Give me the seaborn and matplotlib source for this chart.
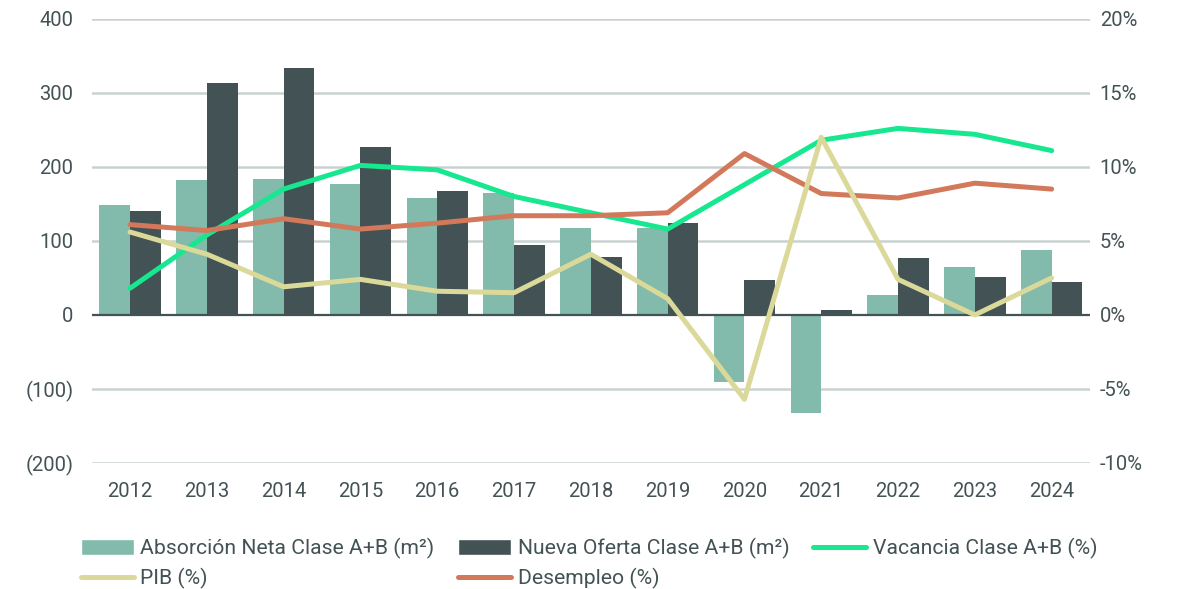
import numpy as np
import pandas as pd
import seaborn as sns
import matplotlib.pyplot as plt
from matplotlib.patches import Patch
from matplotlib.lines import Line2D

sns.set_theme(style="white")
plt.rcParams['font.family'] = ['Roboto', 'DejaVu Sans']

years = ['2012', '2013', '2014', '2015', '2016', '2017', '2018',
         '2019', '2020', '2021', '2022', '2023', '2024']
absorcion = [148, 182, 183, 177, 158, 165, 118, 118, -91, -133, 27, 65, 88]
nueva_oferta = [141, 314, 333, 227, 168, 95, 78, 124, 47, 6, 77, 51, 44]
vacancia = [1.8, 5.4, 8.5, 10.1, 9.8, 8.0, 6.9, 5.8, 8.8, 11.8, 12.6, 12.2, 11.1]
pib = [5.6, 4.1, 1.9, 2.4, 1.6, 1.5, 4.1, 1.1, -5.7, 12.0, 2.4, 0.0, 2.5]
desempleo = [6.1, 5.7, 6.5, 5.8, 6.2, 6.7, 6.7, 6.9, 10.9, 8.2, 7.9, 8.9, 8.5]

left_ticks = [-200, -100, 0, 100, 200, 300, 400]
left_labels = ['(200)', '(100)', '0', '100', '200', '300', '400']
right_ticks = [-10, -5, 0, 5, 10, 15, 20]
right_labels = ['-10%', '-5%', '0%', '5%', '10%', '15%', '20%']

lbl_abs = 'Absorción Neta Clase A+B (m²)'
lbl_nue = 'Nueva Oferta Clase A+B (m²)'
lbl_vac = 'Vacancia Clase A+B (%)'
lbl_pib = 'PIB (%)'
lbl_des = 'Desempleo (%)'

c_abs = '#82BAAB'
c_nue = '#435254'
c_vac = '#17E88F'
c_pib = '#DBD99A'
c_des = '#D3795B'
txt = '#435254'
grid = '#CAD1D3'
fs = 14.5

bars = pd.DataFrame({
    'year': years * 2,
    'value': absorcion + nueva_oferta,
    'serie': [lbl_abs] * len(years) + [lbl_nue] * len(years),
})
pos = np.arange(len(years))
lines = pd.DataFrame({'pos': pos, 'vac': vacancia, 'pib': pib, 'des': desempleo})

fig = plt.figure(figsize=(11.9, 5.89), dpi=100)
ax = fig.add_axes([0.077, 0.214, 0.839, 0.754])

sns.barplot(data=bars, x='year', y='value', hue='serie',
            palette=[c_abs, c_nue], width=0.8, saturation=1, linewidth=0,
            ax=ax, legend=False, zorder=2)
ax.set_ylim(-200, 400)
ax.set_xlim(-0.5, len(years) - 0.5)
ax.set_yticks(left_ticks)
ax.set_yticklabels(left_labels)
for t in left_ticks:
    if t != 0:
        ax.axhline(t, color=grid, lw=1.8, zorder=0)
ax.axhline(0, color=txt, lw=1.6, zorder=3)
ax.set_xlabel('')
ax.set_ylabel('')

ax2 = ax.twinx()
kw = dict(lw=3.6, solid_capstyle='round', solid_joinstyle='round')
sns.lineplot(data=lines, x='pos', y='vac', color=c_vac, ax=ax2, **kw)
sns.lineplot(data=lines, x='pos', y='des', color=c_des, ax=ax2, **kw)
sns.lineplot(data=lines, x='pos', y='pib', color=c_pib, ax=ax2, **kw)
ax2.set_ylim(-10, 20)
ax2.set_yticks(right_ticks)
ax2.set_yticklabels(right_labels)
ax2.set_xlim(-0.5, len(years) - 0.5)
ax2.set_xlabel('')
ax2.set_ylabel('')

for a in (ax, ax2):
    for s in a.spines.values():
        s.set_visible(False)
ax.tick_params(axis='y', length=0, pad=13, labelsize=fs, labelcolor=txt)
ax.tick_params(axis='x', length=0, pad=14, labelsize=fs, labelcolor=txt)
ax2.tick_params(axis='y', length=0, pad=7, labelsize=fs, labelcolor=txt)

h_abs = Patch(facecolor=c_abs, label=lbl_abs)
h_nue = Patch(facecolor=c_nue, label=lbl_nue)
h_vac = Line2D([], [], color=c_vac, lw=3.6, solid_capstyle='round', label=lbl_vac)
h_pib = Line2D([], [], color=c_pib, lw=3.6, solid_capstyle='round', label=lbl_pib)
h_des = Line2D([], [], color=c_des, lw=3.6, solid_capstyle='round', label=lbl_des)
leg = fig.legend(handles=[h_abs, h_pib, h_nue, h_des, h_vac], ncol=3,
                 loc='upper left', bbox_to_anchor=(0.068, 0.086),
                 frameon=False, fontsize=15.2, handlelength=2.5,
                 handleheight=0.8, handletextpad=0.3, columnspacing=1.15,
                 labelspacing=0.4, borderpad=0, borderaxespad=0)
for t in leg.get_texts():
    t.set_color(txt)

fig.savefig('out.png', dpi=100)
